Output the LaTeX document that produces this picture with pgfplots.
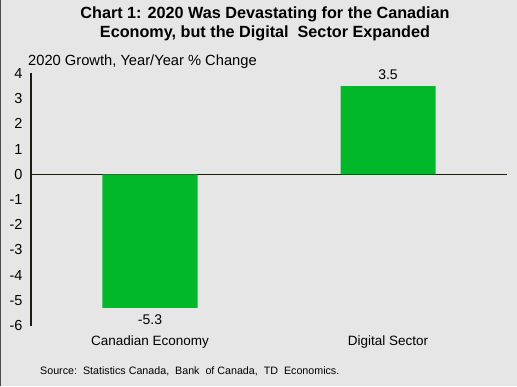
\documentclass[border=0pt]{standalone}
\usepackage{pgfplots}
\pgfplotsset{compat=1.18}
\usepackage{fontspec}
\setmainfont{Liberation Sans}
\definecolor{bg}{HTML}{E6E6E6}
\definecolor{bargreen}{HTML}{00B82A}
\definecolor{axdark}{HTML}{1C1C14}
\begin{document}
\begin{tikzpicture}[x=1pt,y=1pt]
\fill[bg] (0,0) rectangle (517,385);
\draw[line width=1pt, black!70] (0.5,0) -- (0.5,385);
\node[font=\fontsize{16.2}{19.5}\selectfont\bfseries, align=center] at (265,361.5) {Chart 1: 2020 Was Devastating for the Canadian\\Economy, but the Digital\ \ Sector Expanded};
\node[anchor=base west, font=\fontsize{14.7}{17}\selectfont, inner sep=0] at (28,320) {2020 Growth, Year/Year \% Change};
\node[anchor=west, font=\fontsize{10.7}{12}\selectfont, inner sep=0] at (40,14) {Source:\ \ Statistics Canada,\ \ Bank\ \ of Canada,\ \ TD\ \ Economics.};
\begin{axis}[
  at={(31pt,60pt)}, anchor=south west, scale only axis,
  width=476pt, height=252pt,
  xmin=-0.5, xmax=1.5, ymin=-6, ymax=4,
  ytick={-6,-5,...,4},
  xtick={0,1}, xticklabels={Canadian Economy, Digital Sector},
  axis lines=left, axis line style={-},
  x axis line style={draw=none},
  y axis line style={line width=1.5pt, color=axdark},
  major tick length=0pt,
  tick style={draw=none},
  /pgf/number format/assume math mode=true,
  xticklabel style={font=\fontsize{13.5}{16}\selectfont, yshift=-7pt},
  yticklabel style={font=\fontsize{14.5}{16}\selectfont, xshift=-5pt},
  extra y ticks={0}, extra y tick labels={},
  extra y tick style={grid=major, major grid style={line width=1.5pt, color=axdark}},
  ybar, bar width=95pt,
  nodes near coords,
  nodes near coords style={font=\fontsize{14}{16}\selectfont, inner sep=6.5pt, /pgf/number format/fixed, /pgf/number format/precision=1, /pgf/number format/fixed zerofill, /pgf/number format/assume math mode=true},
]
\addplot[fill=bargreen, draw=none] coordinates {(0,-5.3) (1,3.5)};
\end{axis}
\end{tikzpicture}
\end{document}
